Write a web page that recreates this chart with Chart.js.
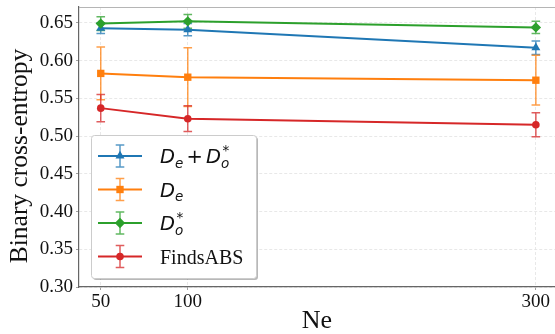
<!DOCTYPE html>
<html><head><meta charset="utf-8">
<script src="https://cdn.jsdelivr.net/npm/chart.js@4/dist/chart.umd.min.js"></script>
<style>html,body{margin:0;padding:0;background:#fff;overflow:hidden}canvas{display:block}</style>
</head><body>
<canvas id="c" width="555" height="334"></canvas>
<script>
// ---- data ----
const neValues = [50, 100, 300];
const xTicks = [50, 100, 300];
const yTicks = [0.30, 0.35, 0.40, 0.45, 0.50, 0.55, 0.60, 0.65];
const seriesNames = ['De + Do*', 'De', 'Do*', 'FindsABS'];
const deDoMean = [0.643, 0.641, 0.617];
const deDoErr  = [0.007, 0.008, 0.009];
const deMean   = [0.583, 0.578, 0.574];
const deErr    = [0.035, 0.039, 0.033];
const doMean   = [0.649, 0.652, 0.644];
const doErr    = [0.009, 0.009, 0.008];
const findsMean = [0.537, 0.523, 0.515];
const findsErr  = [0.018, 0.017, 0.016];

const colors = ['#1f77b4', '#ff7f0e', '#2ca02c', '#d62728'];
const styles = [
  {pointStyle: 'triangle', r: 5.2},
  {pointStyle: 'rect', r: 5.2},
  {pointStyle: 'rectRot', r: 5.2},
  {pointStyle: 'circle', r: 3.8}
];
const means = [deDoMean, deMean, doMean, findsMean];
const errs = [deDoErr, deErr, doErr, findsErr];

const datasets = means.map((m, k) => ({
  label: seriesNames[k],
  data: neValues.map((x, i) => ({x: x, y: m[i]})),
  errors: errs[k],
  borderColor: colors[k],
  backgroundColor: colors[k],
  borderWidth: 2,
  pointStyle: styles[k].pointStyle,
  pointRadius: styles[k].r,
  pointBorderWidth: 0,
  order: 4 - k,
  tension: 0
}));

function rgba(hex, a) {
  const n = parseInt(hex.slice(1), 16);
  return `rgba(${(n >> 16) & 255},${(n >> 8) & 255},${n & 255},${a})`;
}

const serif = '"Liberation Serif", "Times New Roman", serif';
const yTitle = 'Binary cross-entropy';

const bgPlugin = {
  id: 'bg',
  beforeDraw(chart) {
    const c = chart.ctx;
    c.save(); c.fillStyle = '#fff'; c.fillRect(0, 0, chart.width, chart.height); c.restore();
  },
  afterDraw(chart) {
    const c = chart.ctx, a = chart.chartArea;
    c.save();
    c.strokeStyle = '#b5b5b5'; c.lineWidth = 1.2;
    c.beginPath(); c.moveTo(a.left, a.top + 0.5); c.lineTo(a.right, a.top + 0.5); c.stroke();
    // y-axis title
    c.translate(20, 156);
    c.rotate(-Math.PI / 2);
    c.font = `25.5px ${serif}`;
    c.fillStyle = '#111';
    c.textAlign = 'center';
    c.textBaseline = 'middle';
    c.fillText(yTitle, 0, 0);
    c.restore();
  }
};

const errPlugin = {
  id: 'errbars',
  beforeDatasetsDraw(chart) {
    const c = chart.ctx, xs = chart.scales.x, ys = chart.scales.y;
    c.save();
    chart.data.datasets.forEach((ds) => {
      c.strokeStyle = rgba(ds.borderColor, 0.75);
      c.lineWidth = 1.5;
      ds.data.forEach((p, i) => {
        const px = xs.getPixelForValue(p.x);
        const y1 = ys.getPixelForValue(p.y + ds.errors[i]);
        const y2 = ys.getPixelForValue(p.y - ds.errors[i]);
        c.beginPath();
        c.moveTo(px, y1); c.lineTo(px, y2);
        c.moveTo(px - 4.3, y1); c.lineTo(px + 4.3, y1);
        c.moveTo(px - 4.3, y2); c.lineTo(px + 4.3, y2);
        c.stroke();
      });
    });
    c.restore();
  }
};

// math-like legend labels
const mathFont = '"DejaVu Sans"';
const legendLabels = [
  [{t: 'D'}, {sub: 'e'}, {op: '+'}, {t: 'D'}, {sub: 'o', sup: '*'}],
  [{t: 'D'}, {sub: 'e'}],
  [{t: 'D'}, {sub: 'o', sup: '*'}],
  [{plain: 'FindsABS'}]
];

function drawLabel(c, x, base, parts) {
  const S = 19.5, s = 13.5;
  for (const p of parts) {
    if (p.plain) {
      c.font = `20px ${serif}`;
      c.fillText(p.plain, x, base);
    } else if (p.t) {
      c.font = `italic ${S}px ${mathFont}`;
      c.fillText(p.t, x, base);
      x += c.measureText(p.t).width;
    } else if (p.op) {
      x += 3.2;
      c.font = `${S}px ${mathFont}`;
      c.fillText(p.op, x, base);
      x += c.measureText(p.op).width + 3.2;
    } else {
      let w = 0;
      if (p.sub) {
        c.font = `italic ${s}px ${mathFont}`;
        c.fillText(p.sub, x, base + 4.5);
        w = Math.max(w, c.measureText(p.sub).width);
      }
      if (p.sup) {
        c.font = `${s}px ${mathFont}`;
        c.fillText(p.sup, x + 1.5, base - 8);
        w = Math.max(w, c.measureText(p.sup).width + 1.5);
      }
      x += w;
    }
  }
}

const legendPlugin = {
  id: 'mlegend',
  afterDraw(chart) {
    const c = chart.ctx;
    const bx = 91, by = 135, bw = 165, bh = 143;
    c.save();
    c.fillStyle = 'rgba(0,0,0,0.28)';
    c.beginPath(); c.roundRect(bx + 2, by + 2, bw, bh, 3); c.fill();
    c.fillStyle = '#fff';
    c.strokeStyle = '#cccccc'; c.lineWidth = 1;
    c.beginPath(); c.roundRect(bx + 0.5, by + 0.5, bw, bh, 3); c.fill(); c.stroke();
    chart.data.datasets.forEach((ds, k) => {
      const cy = 156 + k * 33.5;
      const mx = 120;
      c.strokeStyle = ds.borderColor; c.lineWidth = 2;
      c.beginPath(); c.moveTo(98, cy); c.lineTo(142, cy); c.stroke();
      c.strokeStyle = rgba(ds.borderColor, 0.75); c.lineWidth = 1.5;
      c.beginPath();
      c.moveTo(mx, cy - 11); c.lineTo(mx, cy + 11);
      c.moveTo(mx - 4.3, cy - 11); c.lineTo(mx + 4.3, cy - 11);
      c.moveTo(mx - 4.3, cy + 11); c.lineTo(mx + 4.3, cy + 11);
      c.stroke();
      c.fillStyle = ds.backgroundColor; c.strokeStyle = ds.borderColor; c.lineWidth = 0;
      Chart.helpers.drawPoint(c, {pointStyle: ds.pointStyle, radius: ds.pointRadius, rotation: 0, borderWidth: 0}, mx, cy);
      c.fillStyle = '#111';
      c.textBaseline = 'alphabetic';
      drawLabel(c, 160, cy + 7, legendLabels[k]);
    });
    c.restore();
  }
};

new Chart(document.getElementById('c'), {
  type: 'line',
  data: {datasets: datasets},
  plugins: [bgPlugin, errPlugin, legendPlugin],
  options: {
    responsive: false,
    animation: false,
    devicePixelRatio: 1,
    layout: {autoPadding: false, padding: {top: 7, right: 0, left: 0, bottom: 0}},
    plugins: {legend: {display: false}, tooltip: {enabled: false}},
    scales: {
      x: {
        type: 'linear', min: 37.5, max: 311,
        afterBuildTicks: s => { s.ticks = xTicks.map(v => ({value: v})); },
        afterFit: s => { s.height = 47; s.paddingLeft = 0; s.paddingRight = 0; },
        grid: {color: '#e2e2e2', tickLength: 3, tickColor: '#888', lineWidth: 0.8},
        border: {display: true, color: '#666', width: 1.2, dash: [3, 2]},
        ticks: {font: {family: serif, size: 19}, color: '#111', padding: 1, maxRotation: 0, callback: v => String(v)},
        title: {display: true, text: 'Ne', font: {family: serif, size: 26, lineHeight: 1}, color: '#111', padding: {top: 0, bottom: 0}}
      },
      y: {
        min: 0.30, max: 0.671,
        afterBuildTicks: s => { s.ticks = yTicks.map(v => ({value: v})); },
        afterFit: s => { s.width = 79; s.paddingTop = 0; s.paddingBottom = 0; },
        grid: {color: '#e2e2e2', tickLength: 3, tickColor: '#888', lineWidth: 0.8},
        border: {display: true, color: '#666', width: 1.2, dash: [3, 2]},
        ticks: {font: {family: serif, size: 19}, color: '#111', padding: 3, callback: v => v.toFixed(2)},
        title: {display: false}
      }
    }
  }
});
</script>
</body></html>
